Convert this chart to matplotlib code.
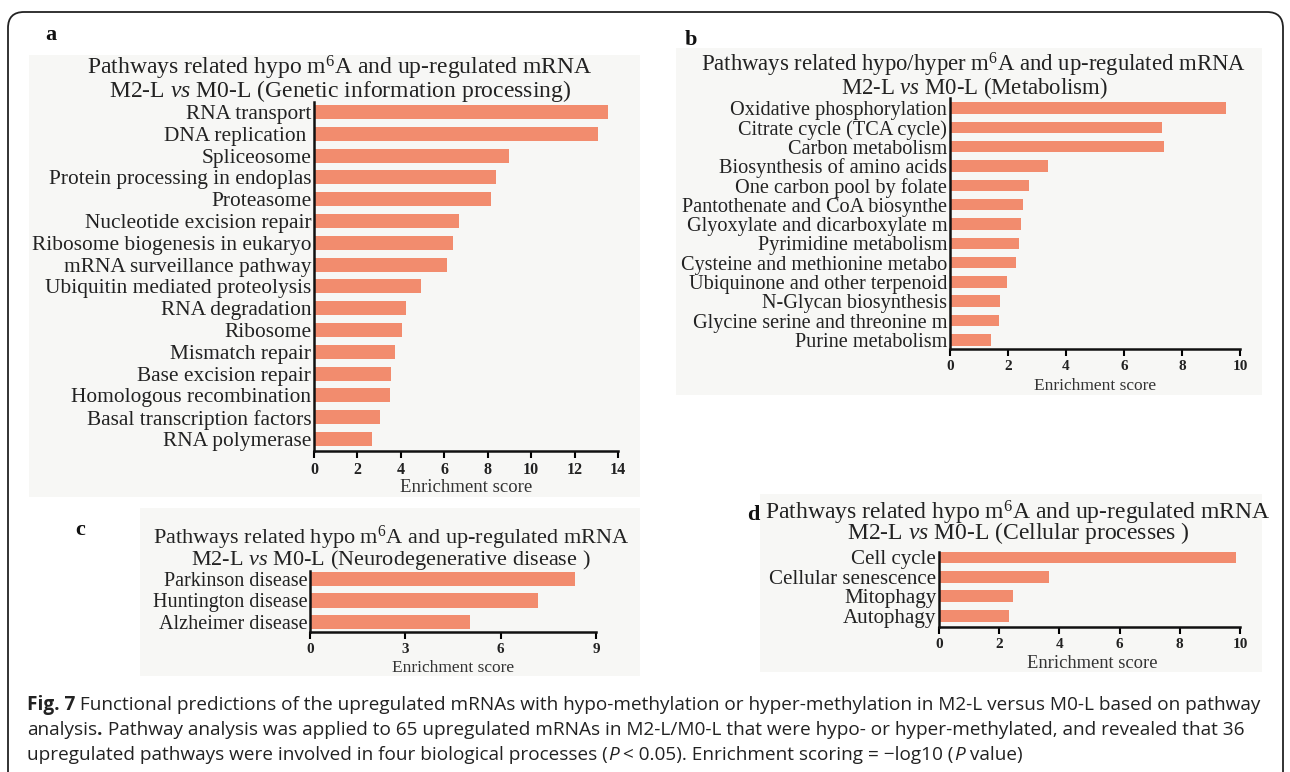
import matplotlib
matplotlib.use("Agg")
import matplotlib.pyplot as plt
import matplotlib.patches as mpatches
import matplotlib.transforms as mtransforms
import numpy as np

plt.rcParams['font.family'] = ['Liberation Serif', 'DejaVu Serif']
plt.rcParams['mathtext.fontset'] = 'custom'
plt.rcParams['mathtext.rm'] = 'Liberation Serif'
plt.rcParams['mathtext.it'] = 'Liberation Serif:italic'
plt.rcParams['mathtext.bf'] = 'Liberation Serif:bold'

# panel a : genetic information processing
cats_a = ["RNA transport", "DNA replication ", "Spliceosome", "Protein processing in endoplas",
          "Proteasome", "Nucleotide excision repair", "Ribosome biogenesis in eukaryo",
          "mRNA surveillance pathway", "Ubiquitin mediated proteolysis", "RNA degradation",
          "Ribosome", "Mismatch repair", "Base excision repair", "Homologous recombination",
          "Basal transcription factors", "RNA polymerase"]
vals_a = [13.56, 13.1, 8.98, 8.4, 8.17, 6.7, 6.42, 6.11, 4.93, 4.22, 4.05, 3.72, 3.55, 3.5, 3.06, 2.67]
ticks_a = [0, 2, 4, 6, 8, 10, 12, 14]

# panel b : metabolism
cats_b = ["Oxidative phosphorylation", "Citrate cycle (TCA cycle)", "Carbon metabolism",
          "Biosynthesis of amino acids", "One carbon pool by folate", "Pantothenate and CoA biosynthe",
          "Glyoxylate and dicarboxylate m", "Pyrimidine metabolism", "Cysteine and methionine metabo",
          "Ubiquinone and other terpenoid", "N-Glycan biosynthesis", "Glycine serine and threonine m",
          "Purine metabolism"]
vals_b = [9.51, 7.32, 7.38, 3.37, 2.73, 2.52, 2.44, 2.38, 2.27, 1.95, 1.74, 1.68, 1.42]
ticks_b = [0, 2, 4, 6, 8, 10]

# panel c : neurodegenerative disease
cats_c = ["Parkinson disease", "Huntington disease", "Alzheimer disease"]
vals_c = [8.34, 7.18, 5.05]
ticks_c = [0, 3, 6, 9]

# panel d : cellular processes
cats_d = ["Cell cycle", "Cellular senescence", "Mitophagy", "Autophagy"]
vals_d = [9.88, 3.64, 2.47, 2.33]
ticks_d = [0, 2, 4, 6, 8, 10]

W, H = 1290, 772
BAR = '#f28c6e'

fig = plt.figure(figsize=(W / 100, H / 100), dpi=100)
fig.patch.set_facecolor('white')


def fx(x):
    return x / W


def fy(y):
    return 1 - y / H


# light grey background of the pasted chart images
for (x0, y0, x1, y1) in [(29, 55, 640, 497), (676, 48, 1262, 395), (140, 508, 640, 676), (760, 494, 1262, 672)]:
    fig.patches.append(mpatches.Rectangle((fx(x0), fy(y1)), fx(x1 - x0), (y1 - y0) / H,
                                          transform=fig.transFigure, facecolor='#f7f7f5',
                                          edgecolor='none', zorder=-5))

# rounded frame
fig.patches.append(mpatches.FancyBboxPatch((8, -30), 1275, H - 12 + 30,
                                           boxstyle="round,pad=0,rounding_size=16",
                                           transform=mtransforms.IdentityTransform(),
                                           facecolor='none', edgecolor='#222222', linewidth=1.3,
                                           zorder=-4))


def panel(box, cats, vals, ticks, height, top_pad, bot_pad, lab_size, tick_size):
    left, right, top, bottom = box
    ax = fig.add_axes([fx(left), fy(bottom), (right - left) / W, (bottom - top) / H])
    ax.set_facecolor('none')
    y = np.arange(len(cats))
    ax.barh(y, vals, height=height, color=BAR)
    ax.set_ylim(len(cats) - 1 + bot_pad, -top_pad)
    ax.set_xlim(ticks[0], ticks[-1])
    ax.set_yticks(y)
    ax.set_yticklabels(cats, fontsize=lab_size, color='#222222')
    ax.set_xticks(ticks)
    ax.set_xticklabels([str(t) for t in ticks], fontsize=tick_size, fontweight='bold', color='#222222')
    ax.tick_params(axis='y', length=0, pad=2)
    ax.tick_params(axis='x', direction='out', length=5, width=1.5, pad=3)
    for s in ['top', 'right']:
        ax.spines[s].set_visible(False)
    for s in ['left', 'bottom']:
        ax.spines[s].set_linewidth(1.8)
        ax.spines[s].set_color('#111111')
    return ax


panel((314, 618, 102, 451), cats_a, vals_a, ticks_a, 0.64, 0.46, 0.55, 15.4, 11.5)
panel((950, 1240, 98, 349), cats_b, vals_b, ticks_b, 0.6, 0.52, 0.47, 14.6, 11)
panel((310, 596, 571, 632), cats_c, vals_c, ticks_c, 0.66, 0.37, 0.47, 14.5, 11)
panel((939, 1240, 552, 627), cats_d, vals_d, ticks_d, 0.6, 0.25, 0.56, 15.1, 11)

line1 = r"Pathways related hypo m$^{6}$A and up-regulated mRNA"
line1b = r"Pathways related hypo/hyper m$^{6}$A and up-regulated mRNA"
vs = r"M2-L $\mathit{vs}$ M0-L "

titles = [
    (340, 79, line1, vs + "(Genetic information processing)", 17, 0.78),
    (974, 76, line1b, vs + "(Metabolism)", 16.4, 0.78),
    (391, 548, line1, vs + "(Neurodegenerative disease )", 16, 0.76),
    (1018, 522, line1, vs + "(Cellular processes )", 17, 0.64),
]
for cx, cy, t1, t2, fs, ls in titles:
    fig.text(fx(cx), fy(cy), t1 + "\n" + t2, ha='center', va='center', fontsize=fs,
             linespacing=ls, color='#222222')

for lab, x, y in [("a", 45, 35), ("b", 685, 40), ("c", 75, 530), ("d", 747, 515)]:
    fig.text(fx(x), fy(y), lab, ha='left', va='center', fontsize=16, fontweight='bold', color='#111111')

for x, y, fs in [(466, 488, 13.5), (1095, 386, 12.5), (453, 668, 12.5), (1092, 664, 13.3)]:
    fig.text(fx(x), fy(y), "Enrichment score", ha='center', va='center', fontsize=fs, color='#333333')

# caption, drawn segment by segment so the bold / italic parts sit inline
caption = [
    [("Fig. 7", 'bold', 'normal'),
     (" Functional predictions of the upregulated mRNAs with hypo-methylation or hyper-methylation in M2-L versus M0-L based on pathway", 'normal', 'normal')],
    [("analysis", 'normal', 'normal'), (".", 'bold', 'normal'),
     (" Pathway analysis was applied to 65 upregulated mRNAs in M2-L/M0-L that were hypo- or hyper-methylated, and revealed that 36", 'normal', 'normal')],
    [("upregulated pathways were involved in four biological processes (", 'normal', 'normal'),
     ("P", 'normal', 'italic'), (" < 0.05). Enrichment scoring = \u2212log10 (", 'normal', 'normal'),
     ("P", 'normal', 'italic'), (" value)", 'normal', 'normal')],
]
renderer = fig.canvas.get_renderer()
for i, segs in enumerate(caption):
    x = 27
    y = 705 + 25 * i
    for txt, wt, st in segs:
        t = fig.text(fx(x), fy(y), txt, ha='left', va='center', fontsize=13.7,
                     fontweight=wt, fontstyle=st, family=['Open Sans', 'DejaVu Sans'], color='#222222')
        bb = t.get_window_extent(renderer=renderer)
        x += bb.width

fig.savefig("out.png", dpi=100)
